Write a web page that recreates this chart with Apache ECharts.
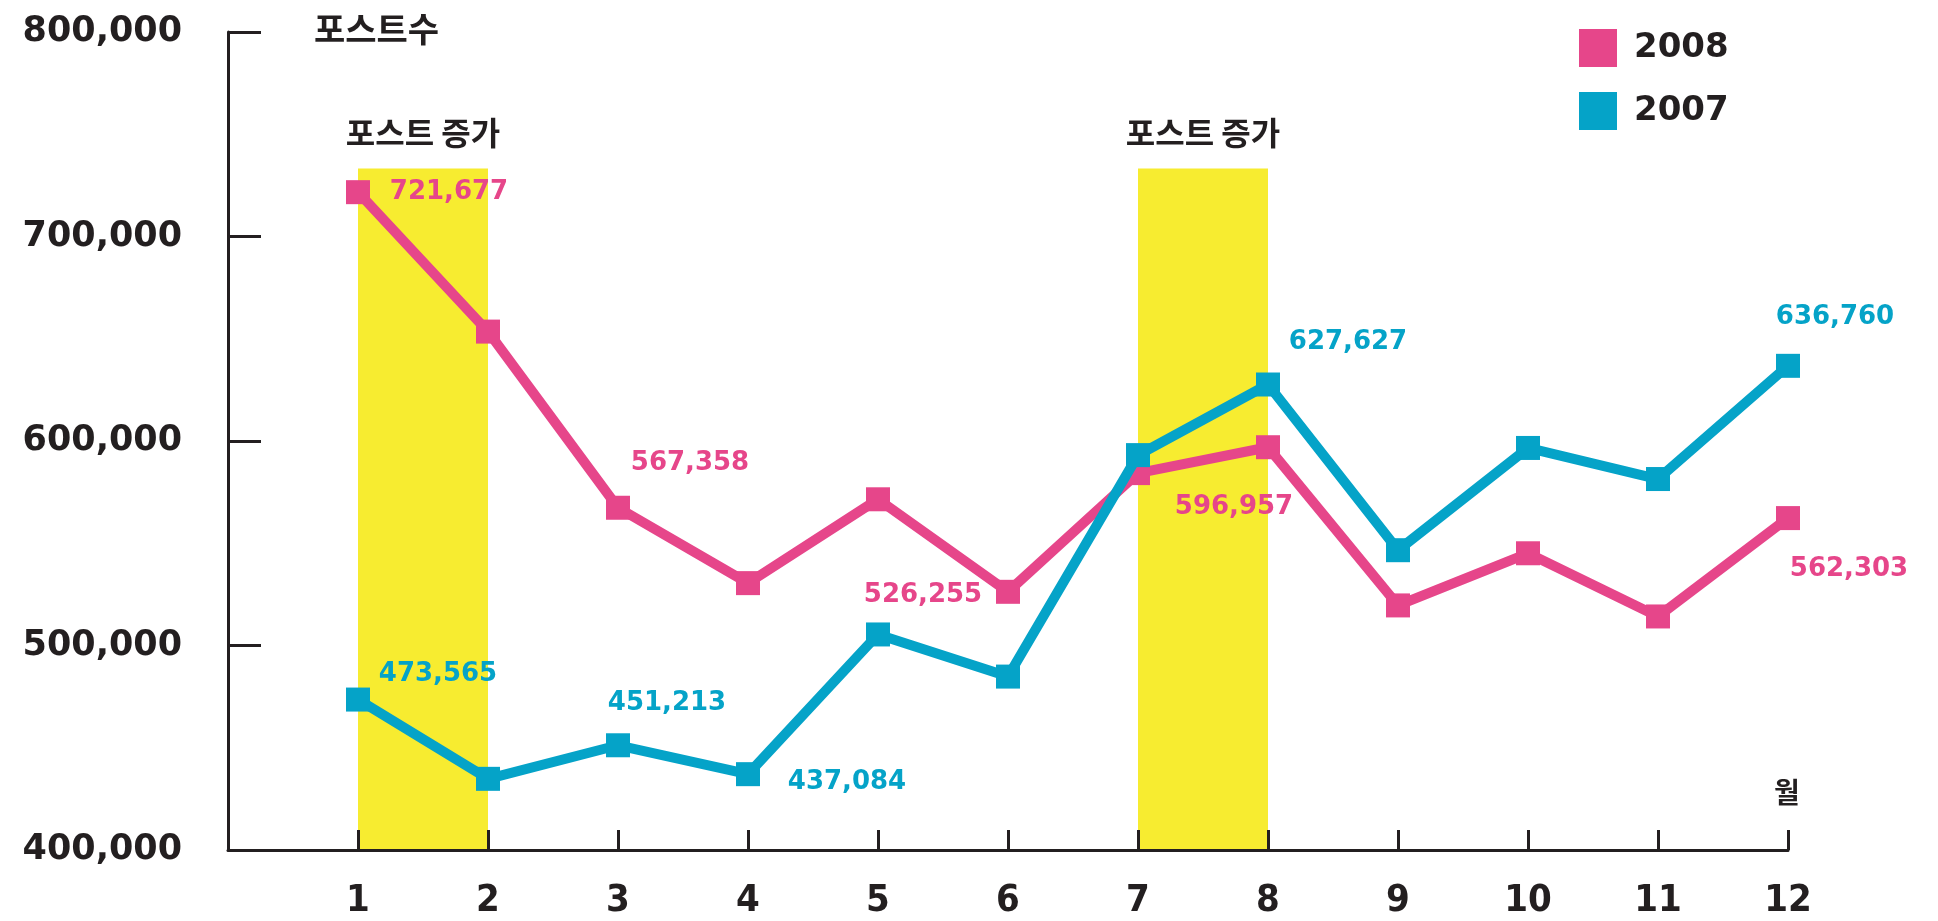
<!DOCTYPE html>
<html>
<head>
<meta charset="utf-8">
<script src="https://cdn.jsdelivr.net/npm/echarts@6/dist/echarts.min.js"></script>
<style>
  html, body { margin: 0; padding: 0; background: #ffffff; }
  #chart { width: 1938px; height: 921px; }
</style>
</head>
<body>
<div id="chart"></div>
<script>
// ---- data ----
const months = [1, 2, 3, 4, 5, 6, 7, 8, 9, 10, 11, 12];
const posts2008 = [721677, 653500, 567358, 530500, 571500, 526255, 584300, 596957, 519600, 545100, 514200, 562303];
const posts2007 = [473565, 434800, 451213, 437084, 505400, 484800, 593100, 627627, 546600, 596600, 581400, 636760];
const seriesNames = ['2008', '2007'];
const bandStarts = [1, 7];
const bandEnds = [2, 8];
const bandLabels = ['포스트 증가', '포스트 증가'];
const bandTop = 733300;
const yTickValues = [400000, 500000, 600000, 700000, 800000];
const yAxisTitle = '포스트수';
const xAxisTitle = '월';

// ---- styling (label placement offsets, by data index) ----
const labeled2008 = {0: [91, 0], 2: [72, -45], 5: [-85, 3], 7: [-34, 60], 11: [61, 51]};
const labeled2007 = {0: [80, -25], 2: [49, -42], 3: [99, 8], 7: [80, -42], 11: [47, -49]};

const PINK = '#e6468a';
const BLUE = '#05a3c8';
const YELLOW = '#f7ec30';
const INK = '#231f20';
const fmt = v => Number(v).toLocaleString('en-US');

function buildData(values, spots, color) {
  return months.map((m, i) => {
    const item = { value: [m, values[i]] };
    if (spots[i]) {
      item.label = {
        show: true,
        position: 'inside',
        offset: spots[i],
        align: 'center',
        verticalAlign: 'middle',
        formatter: p => fmt(p.value[1]),
        color: color,
        fontFamily: 'DejaVu Sans',
        fontWeight: 'bold',
        fontSize: 26
      };
    }
    return item;
  });
}

const chart = echarts.init(document.getElementById('chart'));
chart.setOption({
  animation: false,
  backgroundColor: '#ffffff',
  grid: { left: 228, right: 150, top: 32, bottom: 71 },
  legend: {
    data: [seriesNames[0], seriesNames[1]],
    orient: 'vertical',
    left: 1574,
    top: 24,
    icon: 'rect',
    itemWidth: 38,
    itemHeight: 38,
    itemGap: 25,
    textStyle: {
      color: INK, fontFamily: 'DejaVu Sans', fontWeight: 'bold', fontSize: 34,
      padding: [0, 0, 0, 12]
    }
  },
  xAxis: {
    type: 'value',
    min: 0, max: 12, interval: 1,
    z: 10,
    name: xAxisTitle,
    nameLocation: 'end',
    nameGap: -14,
    nameTextStyle: {
      color: INK, fontFamily: 'Noto Sans CJK KR', fontWeight: 'bold', fontSize: 28,
      align: 'left', verticalAlign: 'bottom', padding: [0, 0, 44, 0]
    },
    axisLine: { show: true, lineStyle: { color: INK, width: 3 } },
    axisTick: { show: true, inside: true, length: 20, lineStyle: { color: INK, width: 3 } },
    splitLine: { show: false },
    axisLabel: {
      margin: 32,
      color: INK,
      fontFamily: "'Liberation Sans Narrow', 'DejaVu Sans Condensed', sans-serif",
      fontWeight: 'bold',
      fontSize: 38,
      formatter: v => (v === 0 ? '' : String(v))
    }
  },
  yAxis: {
    type: 'value',
    min: yTickValues[0], max: yTickValues[yTickValues.length - 1], interval: 100000,
    z: 10,
    name: yAxisTitle,
    nameLocation: 'end',
    nameGap: 3,
    nameTextStyle: {
      color: INK, fontFamily: 'Noto Sans CJK KR', fontWeight: 'bold', fontSize: 34,
      align: 'left', verticalAlign: 'middle', padding: [0, 0, 0, 86]
    },
    axisLine: { show: true, lineStyle: { color: INK, width: 3 } },
    axisTick: { show: true, inside: true, length: 33, lineStyle: { color: INK, width: 3 } },
    splitLine: { show: false },
    axisLabel: {
      margin: 46,
      color: INK,
      fontFamily: 'DejaVu Sans',
      fontWeight: 'bold',
      fontSize: 35,
      padding: [0, 0, 8, 0],
      formatter: v => fmt(v)
    }
  },
  series: [
    {
      name: seriesNames[0],
      type: 'line',
      data: buildData(posts2008, labeled2008, PINK),
      color: PINK,
      symbol: 'rect',
      symbolSize: 24,
      showAllSymbol: true,
      lineStyle: { color: PINK, width: 10 },
      itemStyle: { color: PINK },
      label: { show: false },
      z: 3,
      markArea: {
        silent: true,
        itemStyle: { color: YELLOW, opacity: 1 },
        label: {
          show: true, position: 'top', distance: 20,
          color: INK, fontFamily: 'Noto Sans CJK KR', fontWeight: 'bold', fontSize: 32
        },
        data: bandStarts.map((s, i) => [
          { name: bandLabels[i], xAxis: s, yAxis: yTickValues[0] },
          { xAxis: bandEnds[i], yAxis: bandTop }
        ])
      }
    },
    {
      name: seriesNames[1],
      type: 'line',
      data: buildData(posts2007, labeled2007, BLUE),
      color: BLUE,
      symbol: 'rect',
      symbolSize: 24,
      showAllSymbol: true,
      lineStyle: { color: BLUE, width: 10 },
      itemStyle: { color: BLUE },
      label: { show: false },
      z: 4
    }
  ]
});
</script>
</body>
</html>
